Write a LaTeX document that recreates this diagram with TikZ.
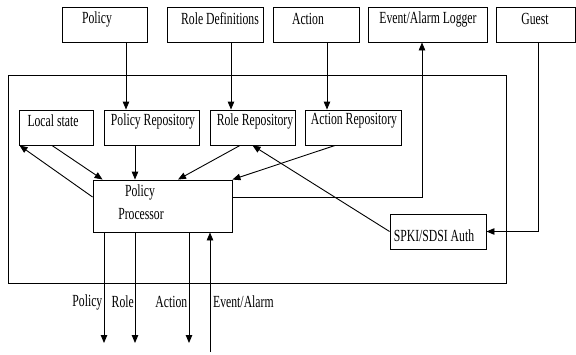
\documentclass[tikz,border=0pt]{standalone}
\usepackage{graphicx}
\usepackage{fontspec}
\setmainfont{Liberation Serif}
\usetikzlibrary{arrows.meta}
% tall, narrow lettering
\newcommand{\tall}[1]{\scalebox{1}[1.45]{#1}}
\begin{document}
\begin{tikzpicture}[x=1pt,y=-1pt,
  box/.style={draw=black,line width=0.9pt,rectangle,inner sep=0pt,anchor=center},
  lbl/.style={inner sep=0pt,font=\fontsize{11.7}{12}\selectfont,anchor=center},
  arr/.style={draw=black,line width=0.9pt,-{Triangle[length=8pt,width=6.5pt]}},
  ln/.style={draw=black,line width=0.9pt}]
\useasboundingbox (0,0) rectangle (576,354);

% outer component frame
\node[box,minimum width=498pt,minimum height=208pt] (frame) at (257,179) {};

% external boxes along the top
\node[box,minimum width=85pt,minimum height=35pt] (pol) at (104.5,24.5) {};
\node[box,minimum width=96pt,minimum height=35pt] (rdef) at (215,24.5) {};
\node[box,minimum width=86pt,minimum height=35pt] (act) at (316,24.5) {};
\node[box,minimum width=119pt,minimum height=35pt] (log) at (427.5,24.5) {};
\node[box,minimum width=79pt,minimum height=35pt] (guest) at (535.5,24.5) {};

\node[lbl] (polT) at (97,19) {\tall{Policy}};
\node[lbl] (rdefT) at (220,19) {\tall{Role Definitions}};
\node[lbl] (actT) at (308,19) {\tall{Action}};
\node[lbl] (logT) at (428,19) {\tall{Event/Alarm Logger}};
\node[lbl] (guestT) at (535,19) {\tall{Guest}};

% inner boxes
\node[box,minimum width=74pt,minimum height=35pt] (ls) at (56,127.5) {};
\node[box,minimum width=95pt,minimum height=35pt] (prep) at (151.5,127.5) {};
\node[box,minimum width=85pt,minimum height=35pt] (rrep) at (252.5,127.5) {};
\node[box,minimum width=96pt,minimum height=35pt] (arep) at (353,127.5) {};
\node[box,minimum width=139pt,minimum height=52pt] (pp) at (162.5,206) {};
\node[box,minimum width=96pt,minimum height=35pt] (spki) at (438,231.5) {};

\node[lbl] (lsT) at (53,121) {\tall{Local state}};
\node[lbl] (prepT) at (153,121) {\tall{Policy Repository}};
\node[lbl] (rrepT) at (255,121) {\tall{Role Repository}};
\node[lbl] (arepT) at (354,121) {\tall{Action Repository}};
\node[lbl] (ppT1) at (140,192) {\tall{Policy}};
\node[lbl] (ppT2) at (141,214) {\tall{Processor}};
\node[lbl] (spkiT) at (434,235.5) {\tall{SPKI/SDSI Auth}};

% columns for vertical connectors
\coordinate (cPol) at (126,0);
\coordinate (cRole) at (231,0);
\coordinate (cAct) at (327,0);
\coordinate (cPR) at (135,0);

% feeds into the repositories
\draw[arr] (pol.south -| cPol) -- (prep.north -| cPol);
\draw[arr] (rdef.south -| cRole) -- (rrep.north -| cRole);
\draw[arr] (act.south -| cAct) -- (arep.north -| cAct);

% processor to logger
\draw[arr] ([yshift=9pt]pp.east) -| ([xshift=-5.5pt]log.south);
% guest to authenticator
\draw[arr] ([xshift=2.5pt]guest.south) |- (spki.east);

% repositories and state to the processor
\draw[arr] (prep.south -| cPR) -- (pp.north -| cPR);
\draw[arr] ([xshift=-4pt]ls.south) -- ([xshift=10pt]pp.north west);
\draw[arr] ([yshift=9pt]pp.west) -- ([xshift=1pt]ls.south west);
\draw[arr] ([xshift=-12.5pt]rrep.south) -- ([xshift=15.5pt]pp.north);
\draw[arr] ([xshift=-18pt]arep.south) -- (pp.north east);
\draw[arr] (spki.west) -- (rrep.south);

% processor outputs and event input
\coordinate (oPol) at (104,343);
\coordinate (oRole) at (135,343);
\coordinate (oAct) at (189,343);
\coordinate (oEv) at (210,352);
\draw[arr] (pp.south -| oPol) -- (oPol);
\draw[arr] (pp.south -| oRole) -- (oRole);
\draw[arr] (pp.south -| oAct) -- (oAct);
\draw[arr] (oEv) -- (pp.south -| oEv);

\node[lbl,anchor=east] (oPolT) at (102.5,302) {\tall{Policy}};
\node[lbl,anchor=east] (oRoleT) at (134,302) {\tall{Role}};
\node[lbl,anchor=east] (oActT) at (187.5,302) {\tall{Action}};
\node[lbl,anchor=west] (oEvT) at (213,302) {\tall{Event/Alarm}};
\end{tikzpicture}
\end{document}
